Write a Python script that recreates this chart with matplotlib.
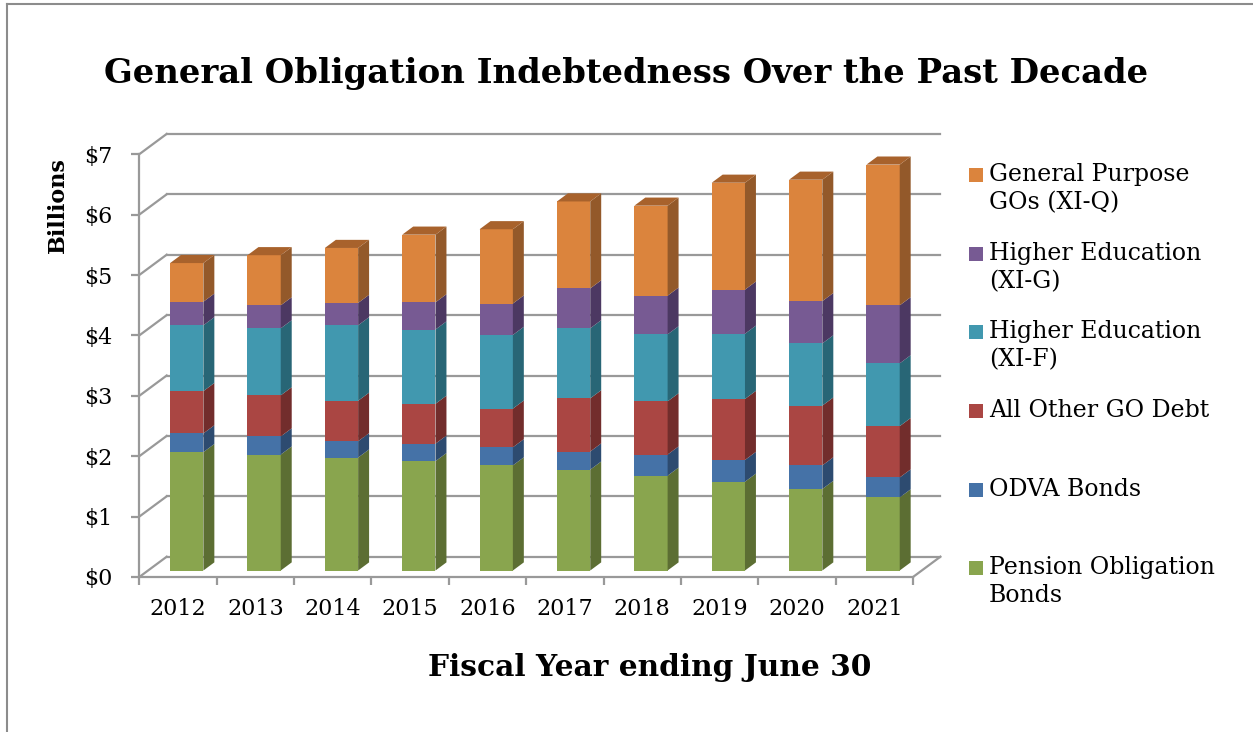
import numpy as np
import matplotlib.pyplot as plt
from matplotlib.patches import Polygon, Rectangle
from matplotlib.lines import Line2D


# fiscal years and outstanding debt by type, in $ billions
years = ['2012', '2013', '2014', '2015', '2016', '2017', '2018', '2019', '2020', '2021']
pension = [1.96, 1.92, 1.87, 1.81, 1.74, 1.67, 1.57, 1.47, 1.35, 1.21]
odva = [0.31, 0.30, 0.27, 0.29, 0.30, 0.30, 0.35, 0.36, 0.39, 0.33]
other_go = [0.70, 0.68, 0.67, 0.66, 0.64, 0.88, 0.88, 1.01, 0.99, 0.85]
higher_ed_f = [1.09, 1.11, 1.25, 1.23, 1.22, 1.16, 1.11, 1.08, 1.03, 1.04]
higher_ed_g = [0.39, 0.38, 0.37, 0.45, 0.52, 0.66, 0.64, 0.73, 0.70, 0.96]
general_purpose = [0.64, 0.83, 0.91, 1.12, 1.23, 1.44, 1.49, 1.77, 2.01, 2.33]

series = [pension, odva, other_go, higher_ed_f, higher_ed_g, general_purpose]
names = ['Pension Obligation\nBonds', 'ODVA Bonds', 'All Other GO Debt',
         'Higher Education\n(XI-F)', 'Higher Education\n(XI-G)', 'General Purpose\nGOs (XI-Q)']
front = ['#89A54E', '#4572A7', '#AA4643', '#4198AF', '#775A93', '#DB843D']
side = ['#5C6E33', '#2D4B70', '#722D2C', '#286676', '#4C3862', '#93592A']
top = ['#6F853C', '#375C88', '#8A3836', '#327D90', '#5E4776', '#A8622C']

W, H = 1253, 732
fig = plt.figure(figsize=(W / 100, H / 100), dpi=100)
plt.rcParams['font.family'] = 'DejaVu Serif'

# front plane of the 3d box in pixels
x0, x1, y0, y7 = 139.3, 913.0, 577.0, 154.2
ax = fig.add_axes([x0 / W, (H - y0) / H, (x1 - x0) / W, (y0 - y7) / H])
ax.set_xlim(-0.5, len(years) - 0.5)
ax.set_ylim(0, 7)

# depth of the box (data units) and of the bars inside it
DX = 27.4 / ((x1 - x0) / len(years))
DY = 20.3 / ((y0 - y7) / 7)
f0, f1 = 0.32, 0.72
bw = 0.43

grid = '#999999'
ax.spines['top'].set_visible(False)
ax.spines['right'].set_visible(False)
for s in ['left', 'bottom']:
    ax.spines[s].set_color(grid)
    ax.spines[s].set_linewidth(1.6)

# back wall gridlines and the diagonals joining them to the front axis
for k in range(8):
    ax.plot([-0.5, -0.5 + DX], [k, k + DY], color=grid, lw=1.6, clip_on=False, zorder=1)
    ax.plot([-0.5 + DX, len(years) - 0.5 + DX], [k + DY, k + DY], color=grid, lw=1.6,
            clip_on=False, zorder=1)
ax.plot([len(years) - 0.5, len(years) - 0.5 + DX], [0, DY], color=grid, lw=1.6,
        clip_on=False, zorder=1)

idx = np.arange(len(years))
xc = idx + f0 * DX
base = np.zeros(len(years)) + f0 * DY
ddx, ddy = (f1 - f0) * DX, (f1 - f0) * DY
for vals, fc, sc, tc in zip(series, front, side, top):
    vals = np.array(vals)
    ax.bar(xc, vals, bw, bottom=base, color=fc, zorder=3, clip_on=False)
    for i in idx:
        xr = xc[i] + bw / 2
        b, t = base[i], base[i] + vals[i]
        ax.add_patch(Polygon([(xr, b), (xr + ddx, b + ddy), (xr + ddx, t + ddy), (xr, t)],
                             closed=True, facecolor=sc, edgecolor='none', zorder=3, clip_on=False))
    base = base + vals

# lid on each column
for i in idx:
    xl, xr, t = xc[i] - bw / 2, xc[i] + bw / 2, base[i]
    ax.add_patch(Polygon([(xl, t), (xr, t), (xr + ddx, t + ddy), (xl + ddx, t + ddy)],
                         closed=True, facecolor=top[-1], edgecolor='none', zorder=3, clip_on=False))

ax.set_yticks(range(8))
ax.set_yticklabels(['$%d' % v for v in range(8)], fontsize=16)
ax.tick_params(axis='y', length=6, width=1.6, color=grid, pad=13.5)
ax.set_xticks(idx)
ax.set_xticklabels(years, fontsize=16)
ax.set_xticks(np.arange(-0.5, len(years)), minor=True)
ax.tick_params(axis='x', which='major', length=0, pad=15)
ax.tick_params(axis='x', which='minor', length=6, width=1.6, color=grid)

ax.set_xlabel('Fiscal Year ending June 30', fontsize=21.3, fontweight='bold')
ax.xaxis.label.set_va('center')
ax.xaxis.set_label_coords((650 - x0) / (x1 - x0), (y0 - 668) / (y0 - y7))
ax.set_ylabel('Billions', fontsize=16, fontweight='bold')
ax.yaxis.label.set_va('center')
ax.yaxis.set_label_coords((58 - x0) / (x1 - x0), (y0 - 205) / (y0 - y7))

fig.text(0.5, 1 - 73 / H, 'General Obligation Indebtedness Over the Past Decade',
         ha='center', va='center', fontsize=24.4, fontweight='bold')

# legend, top entry first
rows = [175, 254, 332, 411, 490, 568]
for r, name, fc in zip(rows, names[::-1], front[::-1]):
    fig.patches.append(Rectangle((969 / W, 1 - (r + 7) / H), 14 / W, 14 / H,
                                 transform=fig.transFigure, facecolor=fc, edgecolor='none'))
    fig.text(989 / W, 1 - (r - 12) / H, name, ha='left', va='top', fontsize=17,
             linespacing=1.3)

# frame lines along the left and top edges
fig.add_artist(Line2D([7 / W, 7 / W], [0, 1 - 4 / H], color='#8c8c8c', lw=1.5))
fig.add_artist(Line2D([7 / W, 1], [1 - 4 / H, 1 - 4 / H], color='#8c8c8c', lw=1.5))

fig.savefig('out.png', dpi=100, facecolor='white')
